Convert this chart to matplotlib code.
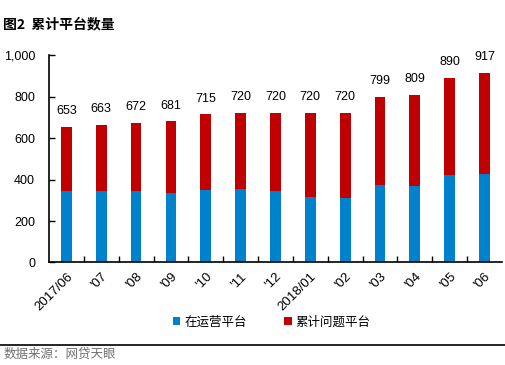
import numpy as np
import matplotlib
matplotlib.use('Agg')
import matplotlib.pyplot as plt
from matplotlib.ticker import FuncFormatter, FixedLocator

plt.rcParams['font.family'] = ['Liberation Sans', 'Noto Sans CJK SC', 'DejaVu Sans']

# data
months = ['2017/06', "'07", "'08", "'09", "'10", "'11", "'12",
          '2018/01', "'02", "'03", "'04", "'05", "'06"]
operating = [345, 345, 345, 335, 350, 355, 345, 316, 311, 374, 369, 422, 427]
total = [653, 663, 672, 681, 715, 720, 720, 720, 720, 799, 809, 890, 917]
problem = [t - o for t, o in zip(total, operating)]

blue = '#0081CB'
red = '#C00000'

fig = plt.figure(figsize=(5.05, 3.65), dpi=100)
ax = fig.add_axes([0.097, 0.281, 0.897, 0.567])

x = np.arange(len(months))
w = 0.31
ax.bar(x, operating, w, color=blue, label='在运营平台')
ax.bar(x, problem, w, bottom=operating, color=red, label='累计问题平台')

for xi, t in zip(x, total):
    ax.text(xi, t + 48, str(t), ha='center', va='bottom', fontsize=9)

ax.set_xlim(-0.5, len(months) - 0.5)
ax.set_ylim(0, 1000)
ax.set_yticks(range(0, 1001, 200))
ax.yaxis.set_major_formatter(FuncFormatter(lambda v, p: f'{int(v):,}'))
ax.set_xticks(x)
ax.set_xticklabels(months, rotation=45, ha='right', rotation_mode='anchor', fontsize=9.5)
ax.tick_params(axis='x', length=0, pad=6)
ax.xaxis.set_minor_locator(FixedLocator(x[:-1] + 0.5))
ax.tick_params(axis='x', which='minor', direction='in', length=4, width=1)
ax.tick_params(axis='y', direction='in', length=4, width=1, labelsize=9, pad=10)

ax.spines['top'].set_visible(False)
ax.spines['right'].set_visible(False)
ax.spines['left'].set_linewidth(1.2)
ax.spines['bottom'].set_linewidth(1.2)

fig.legend(loc='center', bbox_to_anchor=(0.538, 0.118), ncol=2, frameon=False,
           handlelength=0.6, handleheight=0.6, handletextpad=0.3,
           columnspacing=3.0, prop={'family': ['Noto Sans CJK SC'], 'size': 9})

fig.text(0.006, 0.934, '图2  累计平台数量', fontsize=10, fontweight='bold',
         family=['Noto Sans CJK SC'], va='center')
fig.add_artist(plt.Line2D([0, 1], [0.055, 0.055], color='black', lw=1.2,
                          transform=fig.transFigure))
fig.text(0.006, 0.03, '数据来源：网贷天眼', fontsize=9, color='#707070',
         family=['Noto Sans CJK SC'], va='center')

fig.savefig('out.png', dpi=100)
